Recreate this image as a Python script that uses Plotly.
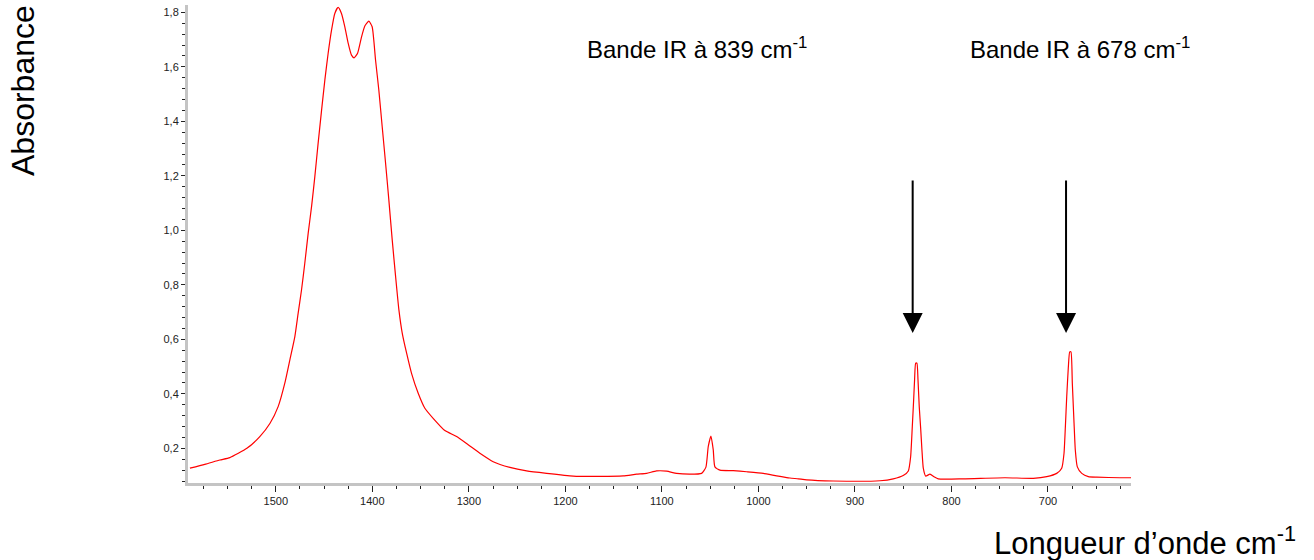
import plotly.graph_objects as go

# Wavenumber (cm-1) and absorbance
wavenumber = [
    1589, 1573.6, 1558, 1547.7, 1530, 1516.6, 1506, 1497.6, 1490.7, 1485.5,
    1480.3, 1476.9, 1473.4, 1470, 1466.5, 1463, 1459.6, 1456.2, 1452.6, 1449.2,
    1445.8, 1442.3, 1438.9, 1435.5, 1432, 1428.5, 1425, 1421.6, 1418.9, 1415.3,
    1411.2, 1407.8, 1403.6, 1400.2, 1396.7, 1393.3, 1389.8, 1386.3, 1382.9, 1379.4,
    1375.9, 1372.5, 1369, 1364.5, 1359.4, 1352.5, 1345.6, 1337, 1324.9, 1312.7,
    1300.7, 1288.6, 1274.8, 1257.5, 1240.2, 1219.5, 1191.9, 1164.2, 1140.1, 1126.2,
    1115.9, 1105.5, 1095.1, 1084.8, 1071, 1058.9, 1054.4, 1052, 1049.2, 1046.8,
    1045.1, 1039.9, 1026.1, 1012.2, 995, 981.1, 967.4, 958.7, 950, 922.4,
    874, 860.3, 850, 844.7, 842.3, 840.6, 839.2, 838.2, 837.1, 835.8,
    834.7, 833.4, 831.9, 830.6, 829.2, 826.7, 822.3, 818.1, 813.7, 787.8,
    744.6, 715.2, 701.3, 691, 685.8, 683.4, 682, 680.6, 678.9, 677.5,
    676.2, 674.8, 673, 671.7, 669.6, 665, 658.2, 649.5, 625.4, 614,
]
absorbance = [
    0.127, 0.141, 0.157, 0.166, 0.200, 0.243, 0.292, 0.353, 0.439, 0.524,
    0.610, 0.695, 0.781, 0.879, 0.989, 1.087, 1.197, 1.319, 1.441, 1.552,
    1.650, 1.735, 1.796, 1.818, 1.796, 1.747, 1.686, 1.643, 1.633, 1.650,
    1.710, 1.750, 1.768, 1.747, 1.625, 1.515, 1.380, 1.246, 1.111, 0.964,
    0.830, 0.708, 0.622, 0.549, 0.475, 0.402, 0.347, 0.310, 0.265, 0.243,
    0.213, 0.182, 0.151, 0.130, 0.117, 0.108, 0.098, 0.097, 0.099, 0.105,
    0.108, 0.117, 0.116, 0.108, 0.105, 0.108, 0.131, 0.206, 0.245, 0.194,
    0.132, 0.120, 0.118, 0.114, 0.108, 0.099, 0.091, 0.088, 0.084, 0.080,
    0.081, 0.088, 0.100, 0.117, 0.169, 0.279, 0.377, 0.453, 0.512, 0.512,
    0.453, 0.353, 0.273, 0.194, 0.127, 0.098, 0.105, 0.096, 0.088, 0.088,
    0.092, 0.090, 0.096, 0.108, 0.127, 0.182, 0.279, 0.389, 0.499, 0.554,
    0.554, 0.439, 0.292, 0.194, 0.132, 0.108, 0.096, 0.094, 0.092, 0.092,
]

band_positions = [840.2, 681.3]
band_labels = ["Bande IR à 839 cm<sup>-1</sup>", "Bande IR à 678 cm<sup>-1</sup>"]
y_ticks = [0.2, 0.4, 0.6, 0.8, 1.0, 1.2, 1.4, 1.6, 1.8]
x_ticks = [1500, 1400, 1300, 1200, 1100, 1000, 900, 800, 700]

FONT = "Liberation Sans, Arial, sans-serif"

# plot area spans page x 188..1131, y 5..483
PL, PR, PT, PB = 188, 1131, 5, 483


def px(xp):
    return (xp - PL) / (PR - PL)


def py(yp):
    return (PB - yp) / (PB - PT)


fig = go.Figure()
fig.add_trace(go.Scatter(
    x=wavenumber, y=absorbance, mode="lines",
    line=dict(color="#ff0000", width=1.2, shape="spline", smoothing=0.5),
    showlegend=False, cliponaxis=False,
))

axis_common = dict(
    showgrid=False, zeroline=False,
    showline=True, linecolor="#c4c4c4", linewidth=3,
    ticks="outside", tickcolor="#222222", tickwidth=1,
    tickfont=dict(family=FONT, size=11, color="#222222"),
)

fig.update_xaxes(
    range=[1591, 614], tickvals=x_ticks, ticklen=6,
    minor=dict(dtick=25, tick0=0, ticks="outside", ticklen=3, tickcolor="#222222"),
    **axis_common,
)
fig.update_yaxes(
    range=[0.0727, 1.827], tickvals=y_ticks, ticklen=4, tickformat=".1f",
    minor=dict(dtick=0.04, tick0=0, ticks="outside", ticklen=3, tickcolor="#222222"),
    **axis_common,
)

annotations = []
for pos, lab, cx in zip(band_positions, band_labels, [697, 1080]):
    annotations.append(dict(
        x=px(cx), y=py(48), xref="paper", yref="paper",
        text=lab, showarrow=False, xanchor="center", yanchor="middle",
        font=dict(family=FONT, size=24, color="#000000"),
    ))
    annotations.append(dict(
        x=pos, y=0.623, xref="x", yref="y", text="",
        showarrow=True, arrowhead=2, arrowsize=2, arrowwidth=2,
        arrowcolor="#000000", ax=0, ay=-154, standoff=0,
    ))

annotations.append(dict(
    x=px(23), y=py(91), xref="paper", yref="paper",
    text="Absorbance", textangle=-90, showarrow=False,
    xanchor="center", yanchor="middle",
    font=dict(family=FONT, size=32, color="#000000"),
))
annotations.append(dict(
    x=px(1145), y=py(541), xref="paper", yref="paper",
    text="Longueur d’onde cm<sup>-1</sup>", showarrow=False,
    xanchor="center", yanchor="middle",
    font=dict(family=FONT, size=31, color="#000000"),
))

fig.update_layout(
    width=1314, height=560,
    margin=dict(l=PL, r=1314 - PR, t=PT, b=560 - PB),
    plot_bgcolor="white", paper_bgcolor="white",
    separators=", ",
    annotations=annotations,
)

fig.write_html(
    "out.html",
    config={"displayModeBar": False},
    post_script="document.body.style.margin='0';document.body.style.padding='0';",
)
